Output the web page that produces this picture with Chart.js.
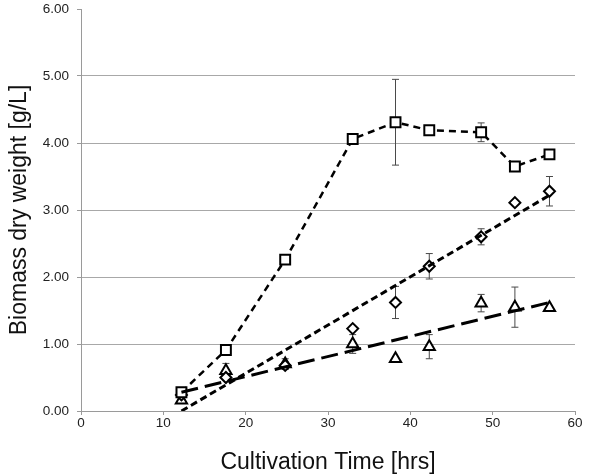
<!DOCTYPE html>
<html>
<head>
<meta charset="utf-8">
<script src="https://cdn.jsdelivr.net/npm/chart.js@4.4.1/dist/chart.umd.min.js"></script>
<style>
html,body{margin:0;padding:0;background:#fff;}
#wrap{width:600px;height:476px;position:relative;}
</style>
</head>
<body>
<div id="wrap"><canvas id="c" width="600" height="476"></canvas></div>
<script>
// ---- data ----
const hours = [12.2, 17.6, 24.8, 33.0, 38.2, 42.3, 48.6, 52.7, 56.9];
const squareVals = [0.28, 0.91, 2.26, 4.06, 4.31, 4.19, 4.16, 3.65, 3.83];
const squareErr  = [0.05, 0.03, 0.07, 0.02, 0.64, 0.03, 0.14, 0.02, 0.04];
const diamondVals = [0.24, 0.50, 0.68, 1.23, 1.62, 2.16, 2.60, 3.11, 3.28];
const diamondErr  = [0.04, 0.04, 0.05, 0.03, 0.24, 0.19, 0.12, 0.03, 0.22];
const triangleVals = [0.16, 0.60, 0.70, 1.00, 0.78, 0.96, 1.61, 1.55, 1.54];
const triangleErr  = [0.03, 0.11, 0.08, 0.14, 0.02, 0.18, 0.13, 0.30, 0.03];
const trendHours = [12.2, 56.9];
const diamondTrend = [0.00, 3.22];
const triangleTrend = [0.28, 1.62];
const xTicks = [0, 10, 20, 30, 40, 50, 60];
const yTicks = [0, 1, 2, 3, 4, 5, 6];

const pts = (xs, ys) => xs.map((x, i) => ({x: x, y: ys[i]}));

const errorBars = {
  id: 'errorBars',
  beforeDatasetsDraw(chart) {
    const ctx = chart.ctx;
    const xs = chart.scales.x, ys = chart.scales.y;
    ctx.save();
    ctx.strokeStyle = '#4a4a4a';
    ctx.lineWidth = 1;
    chart.data.datasets.forEach(ds => {
      if (!ds.errors) return;
      ds.data.forEach((p, i) => {
        const e = ds.errors[i];
        const px = xs.getPixelForValue(p.x);
        const y1 = ys.getPixelForValue(p.y + e);
        const y2 = ys.getPixelForValue(p.y - e);
        ctx.beginPath();
        ctx.moveTo(px, y1); ctx.lineTo(px, y2);
        ctx.moveTo(px - 3.5, y1); ctx.lineTo(px + 3.5, y1);
        ctx.moveTo(px - 3.5, y2); ctx.lineTo(px + 3.5, y2);
        ctx.stroke();
      });
    });
    ctx.restore();
  }
};

const fontFam = '"Liberation Sans", Arial, Helvetica, sans-serif';

new Chart(document.getElementById('c'), {
  type: 'scatter',
  data: {
    datasets: [
      {
        data: pts(trendHours, diamondTrend), showLine: true,
        borderColor: '#000', borderWidth: 3, borderDash: [7, 4],
        pointRadius: 0, fill: false
      },
      {
        data: pts(trendHours, triangleTrend), showLine: true,
        borderColor: '#000', borderWidth: 3, borderDash: [17, 7],
        pointRadius: 0, fill: false
      },
      {
        data: pts(hours, squareVals), errors: squareErr, showLine: true,
        borderColor: '#000', borderWidth: 2.5, borderDash: [7, 5],
        pointStyle: 'rect', pointRadius: 7, pointBorderWidth: 2,
        pointBackgroundColor: '#fff', pointBorderColor: '#000', fill: false
      },
      {
        data: pts(hours, diamondVals), errors: diamondErr, showLine: false,
        pointStyle: 'rectRot', pointRadius: 5.5, pointBorderWidth: 2,
        pointBackgroundColor: '#fff', pointBorderColor: '#000',
        borderColor: '#000'
      },
      {
        data: pts(hours, triangleVals), errors: triangleErr, showLine: false,
        pointStyle: 'triangle', pointRadius: 6.5, pointBorderWidth: 2,
        pointBackgroundColor: '#fff', pointBorderColor: '#000',
        borderColor: '#000'
      }
    ]
  },
  options: {
    responsive: false,
    animation: false,
    devicePixelRatio: 1,
    layout: {padding: {left: 0, right: 25, top: 5, bottom: 0}},
    plugins: {legend: {display: false}, tooltip: {enabled: false}},
    scales: {
      x: {
        type: 'linear', min: 0, max: 60,
        afterBuildTicks(s) { s.ticks = xTicks.map(v => ({value: v})); },
        afterFit(s) { s.height = 65; s.paddingLeft = 0; s.paddingRight = 0; },
        grid: {drawOnChartArea: false, drawTicks: true, tickLength: 4, color: '#9a9a9a', tickColor: '#9a9a9a'},
        border: {color: '#9a9a9a', width: 1},
        ticks: {color: '#222', font: {family: fontFam, size: 13.5}, padding: 0, maxRotation: 0},
        title: {display: true, text: 'Cultivation Time [hrs]', color: '#111',
                font: {family: fontFam, size: 23}, padding: {top: 0, bottom: 0}}
      },
      y: {
        type: 'linear', min: 0, max: 6,
        afterBuildTicks(s) { s.ticks = yTicks.map(v => ({value: v})); },
        afterFit(s) { s.width = 81; s.paddingTop = 0; s.paddingBottom = 0; },
        grid: {drawTicks: true, tickLength: 4, tickColor: '#9a9a9a',
               color: c => (c.tick && c.tick.value === 6) ? 'rgba(0,0,0,0)' : '#a8a8a8'},
        border: {color: '#9a9a9a', width: 1},
        ticks: {color: '#222', font: {family: fontFam, size: 13.5}, padding: 8,
                callback: v => Number(v).toFixed(2)},
        title: {display: true, text: 'Biomass dry weight [g/L]', color: '#111',
                font: {family: fontFam, size: 23}, padding: {top: 6, bottom: 0}}
      }
    }
  },
  plugins: [errorBars]
});
</script>
</body>
</html>
